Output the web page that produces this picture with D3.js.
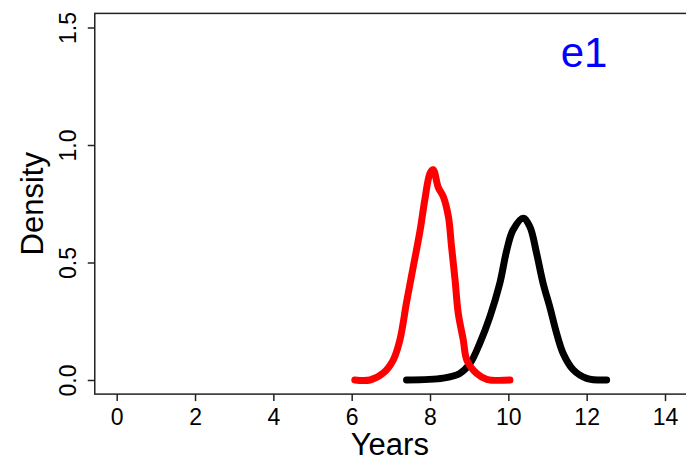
<!DOCTYPE html>
<html>
<head>
<meta charset="utf-8">
<script src="https://cdn.jsdelivr.net/npm/d3@7"></script>
<style>
  html, body { margin: 0; padding: 0; background: #fff; }
  svg { display: block; font-family: "Liberation Sans", Arial, sans-serif; }
  .tick text { font-size: 23px; font-family: "Liberation Sans", Arial, sans-serif; }
</style>
</head>
<body>
<div id="chart"></div>
<script>
// density curves
const blackYears = [7.40, 8.34, 8.76, 9.02, 9.27, 9.53, 9.78, 9.96, 10.12, 10.38, 10.55, 10.72, 10.89, 11.06, 11.23, 11.40, 11.66, 12.0, 12.51];
const blackDensity = [0, 0.008, 0.028, 0.07, 0.156, 0.27, 0.41, 0.553, 0.638, 0.688, 0.652, 0.54, 0.41, 0.31, 0.2, 0.113, 0.043, 0.007, 0];

const redYears = [6.08, 6.47, 6.81, 7.06, 7.23, 7.40, 7.57, 7.74, 7.87, 8.00, 8.08, 8.21, 8.34, 8.47, 8.55, 8.64, 8.72, 8.85, 8.94, 9.19, 9.45, 10.04];
const redDensity = [0, 0, 0.03, 0.085, 0.17, 0.33, 0.48, 0.63, 0.77, 0.88, 0.895, 0.82, 0.78, 0.695, 0.567, 0.425, 0.285, 0.17, 0.085, 0.028, 0.003, 0];

const xTicks = [0, 2, 4, 6, 8, 10, 12, 14];
const yTicks = [0, 0.5, 1.0, 1.5];
const panelLabel = "e1";

const width = 686, height = 462;

const svg = d3.select("#chart").append("svg")
  .attr("width", width)
  .attr("height", height);

// R style: usr extends 4% past the data range
const x = d3.scaleLinear().domain([0, 14]).range([116.7, 665]);
const y = d3.scaleLinear().domain([0, 1.5]).range([380, 27.5]);
const xPad = 0.04 * 14, yPad = 0.04 * 1.5;

const boxL = x(-xPad), boxR = x(14 + xPad);
const boxT = y(1.5 + yPad), boxB = y(-yPad);

// box
svg.append("rect")
  .attr("x", boxL).attr("y", boxT)
  .attr("width", boxR - boxL).attr("height", boxB - boxT)
  .attr("fill", "none")
  .attr("stroke", "#222")
  .attr("stroke-width", 1.5);

// x axis
const xAxis = d3.axisBottom(x).tickValues(xTicks).tickSize(7).tickFormat(d3.format("d"));
const gx = svg.append("g").attr("transform", `translate(0,${boxB})`).call(xAxis);
gx.select(".domain").remove();
gx.selectAll(".tick line").attr("stroke", "#222").attr("stroke-width", 1.5);
gx.selectAll(".tick text")
  .attr("fill", "#000")
  .attr("dy", null)
  .attr("y", 31);

// y axis, labels rotated like R's default las=0
const yAxis = d3.axisLeft(y).tickValues(yTicks).tickSize(7).tickFormat(d3.format(".1f"));
const gy = svg.append("g").attr("transform", `translate(${boxL},0)`).call(yAxis);
gy.select(".domain").remove();
gy.selectAll(".tick line").attr("stroke", "#222").attr("stroke-width", 1.5);
gy.selectAll(".tick text")
  .attr("fill", "#000")
  .attr("x", null).attr("dy", null)
  .attr("text-anchor", "middle")
  .attr("transform", "translate(-19,0) rotate(-90)");

// axis titles
svg.append("text")
  .attr("x", (boxL + boxR) / 2 - 1)
  .attr("y", 455)
  .attr("text-anchor", "middle")
  .attr("font-size", 31)
  .text("Years");

svg.append("text")
  .attr("transform", `translate(43,${(boxT + boxB) / 2}) rotate(-90)`)
  .attr("text-anchor", "middle")
  .attr("font-size", 31)
  .text("Density");

// panel label
svg.append("text")
  .attr("x", 584)
  .attr("y", 67)
  .attr("text-anchor", "middle")
  .attr("fill", "#0000ff")
  .attr("font-size", 42)
  .text(panelLabel);

const line = d3.line()
  .x(d => x(d[0]))
  .y(d => y(d[1]))
  .curve(d3.curveCatmullRom.alpha(0.5));

const series = [
  { color: "#000", pts: d3.zip(blackYears, blackDensity) },
  { color: "#ff0000", pts: d3.zip(redYears, redDensity) }
];

svg.selectAll("path.dens")
  .data(series)
  .join("path")
  .attr("class", "dens")
  .attr("d", d => line(d.pts))
  .attr("fill", "none")
  .attr("stroke", d => d.color)
  .attr("stroke-width", 7)
  .attr("stroke-linecap", "round")
  .attr("stroke-linejoin", "round");
</script>
</body>
</html>
